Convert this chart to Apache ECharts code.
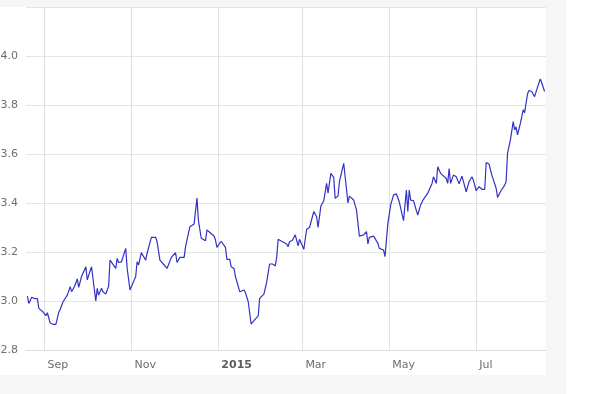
<!DOCTYPE html>
<html>
<head>
<meta charset="utf-8">
<script src="https://cdn.jsdelivr.net/npm/echarts@6/dist/echarts.min.js"></script>
<style>
html,body{margin:0;padding:0;background:#fff;}
#frame{position:absolute;left:0;top:0;width:566px;height:394px;background:#f6f6f6;}
#inner{position:absolute;left:0;top:7px;width:546px;height:368px;background:#fff;}
#chart{position:absolute;left:0;top:0;width:592px;height:394px;}
</style>
</head>
<body>
<div id="frame"><div id="inner"></div></div>
<div id="chart"></div>
<script>
const dates = [
'2014-08-20','2014-08-21','2014-08-23','2014-08-25','2014-08-27','2014-08-28','2014-08-29','2014-08-31',
'2014-09-02','2014-09-03','2014-09-05','2014-09-07','2014-09-09','2014-09-11','2014-09-12','2014-09-14',
'2014-09-17','2014-09-18','2014-09-19','2014-09-20','2014-09-22','2014-09-24','2014-09-25','2014-09-27','2014-09-30',
'2014-10-01','2014-10-04','2014-10-05','2014-10-07','2014-10-08','2014-10-09','2014-10-11','2014-10-12','2014-10-14',
'2014-10-16','2014-10-17','2014-10-21','2014-10-22','2014-10-23','2014-10-25','2014-10-28','2014-10-29','2014-10-31',
'2014-11-02','2014-11-04','2014-11-05','2014-11-06','2014-11-08','2014-11-11','2014-11-12','2014-11-13','2014-11-15',
'2014-11-18','2014-11-19','2014-11-21','2014-11-24','2014-11-26','2014-11-27','2014-11-29',
'2014-12-02','2014-12-03','2014-12-05','2014-12-08','2014-12-09','2014-12-10','2014-12-12','2014-12-15','2014-12-17',
'2014-12-18','2014-12-20','2014-12-23','2014-12-24','2014-12-29','2014-12-30','2014-12-31',
'2015-01-03','2015-01-06','2015-01-07','2015-01-09','2015-01-10','2015-01-12','2015-01-13','2015-01-16','2015-01-19',
'2015-01-20','2015-01-22','2015-01-24','2015-01-26','2015-01-29','2015-01-30',
'2015-02-02','2015-02-04','2015-02-06','2015-02-08','2015-02-10','2015-02-11','2015-02-12','2015-02-15','2015-02-18',
'2015-02-19','2015-02-20','2015-02-22','2015-02-24','2015-02-26','2015-02-27',
'2015-03-02','2015-03-04','2015-03-06','2015-03-09','2015-03-11','2015-03-12','2015-03-14','2015-03-16','2015-03-18',
'2015-03-19','2015-03-21','2015-03-23','2015-03-24','2015-03-26','2015-03-27','2015-03-30',
'2015-04-02','2015-04-03','2015-04-06','2015-04-08','2015-04-10','2015-04-13','2015-04-15','2015-04-16','2015-04-17',
'2015-04-20','2015-04-23','2015-04-24','2015-04-27','2015-04-28','2015-04-30',
'2015-05-02','2015-05-04','2015-05-06','2015-05-08','2015-05-11','2015-05-13','2015-05-14','2015-05-15','2015-05-16',
'2015-05-18','2015-05-20','2015-05-21','2015-05-23','2015-05-25','2015-05-26','2015-05-28','2015-05-31',
'2015-06-01','2015-06-03','2015-06-04','2015-06-06','2015-06-10','2015-06-11','2015-06-12','2015-06-13','2015-06-15',
'2015-06-17','2015-06-19','2015-06-21','2015-06-24','2015-06-26','2015-06-28','2015-06-29',
'2015-07-01','2015-07-03','2015-07-05','2015-07-07','2015-07-08','2015-07-10','2015-07-12','2015-07-15','2015-07-16',
'2015-07-18','2015-07-21','2015-07-22','2015-07-23','2015-07-25','2015-07-27','2015-07-28','2015-07-29','2015-07-30',
'2015-08-01','2015-08-03','2015-08-04','2015-08-05','2015-08-06','2015-08-07','2015-08-09','2015-08-11','2015-08-13',
'2015-08-15','2015-08-16','2015-08-18'
];
const values = [
3.02,2.99,3.015,3.01,3.01,2.97,2.965,2.955,
2.94,2.952,2.91,2.905,2.905,2.955,2.965,2.997,
3.024,3.03,3.058,3.038,3.058,3.09,3.056,3.10,3.14,
3.086,3.14,3.093,3.0,3.052,3.024,3.052,3.038,3.028,
3.06,3.167,3.133,3.174,3.157,3.16,3.215,3.133,3.045,
3.072,3.10,3.16,3.147,3.197,3.167,3.195,3.197,3.26,
3.26,3.242,3.167,3.147,3.133,3.133,3.178,
3.197,3.157,3.178,3.178,3.222,3.215,3.303,3.314,3.42,
3.33,3.256,3.246,3.29,3.265,3.249,3.219,
3.244,3.219,3.17,3.17,3.14,3.133,3.10,3.038,3.045,
3.034,2.997,2.906,2.92,2.939,3.011,
3.028,3.079,3.151,3.151,3.143,3.181,3.252,3.242,3.233,
3.222,3.242,3.248,3.27,3.225,3.252,
3.211,3.293,3.30,3.365,3.344,3.30,3.388,3.409,3.48,
3.44,3.521,3.505,3.419,3.428,3.487,3.562,
3.40,3.428,3.412,3.371,3.265,3.27,3.283,3.233,3.26,
3.265,3.235,3.215,3.208,3.181,3.317,
3.392,3.433,3.437,3.405,3.328,3.453,3.365,3.453,3.412,
3.41,3.369,3.351,3.392,3.415,3.42,3.44,3.48,
3.507,3.48,3.548,3.521,3.50,3.48,3.541,3.48,3.514,
3.507,3.478,3.51,3.446,3.487,3.507,3.494,
3.45,3.467,3.456,3.456,3.565,3.559,3.514,3.46,3.423,
3.446,3.473,3.487,3.603,3.657,3.732,3.698,3.711,3.678,
3.725,3.78,3.769,3.773,3.845,3.859,3.855,3.834,3.872,
3.906,3.891,3.855
];
const xMin = '2014-08-19';
const xMax = '2015-08-19';
const yMin = 2.8, yMax = 4.2, yStep = 0.2;

const chart = echarts.init(document.getElementById('chart'));
chart.setOption({
  backgroundColor: 'transparent',
  animation: false,
  grid: { left: 26, right: 46, top: 7, bottom: 44, containLabel: false, outerBoundsMode: 'none' },
  xAxis: {
    type: 'time',
    min: xMin, max: xMax,
    splitNumber: 6,
    axisLine: { show: true, lineStyle: { color: '#dcdcdc', width: 1 } },
    axisTick: { show: false },
    splitLine: { show: true, showMinLine: false, showMaxLine: false, lineStyle: { color: '#e0e0e0', width: 1 } },
    axisLabel: {
      color: '#6e6e6e', fontFamily: 'DejaVu Sans', fontSize: 11, margin: 10,
      align: 'left', padding: [0,0,0,3],
      showMinLabel: false, showMaxLabel: false,
      rich: { primary: { fontWeight: 'bold', color: '#5e5e5e', fontFamily: 'DejaVu Sans', fontSize: 11 } }
    }
  },
  yAxis: {
    type: 'value',
    min: yMin, max: yMax, interval: yStep,
    axisLine: { show: false }, axisTick: { show: false },
    splitLine: { lineStyle: { color: '#e4e4e4', width: 1 } },
    axisLabel: {
      color: '#6e6e6e', fontFamily: 'DejaVu Sans', fontSize: 11, margin: 8,
      showMaxLabel: false,
      formatter: v => v.toFixed(1)
    }
  },
  series: [{
    type: 'line',
    data: dates.map((d, i) => [d, values[i]]),
    showSymbol: false, symbol: 'none',
    lineStyle: { color: '#3232c4', width: 1.2 },
    smooth: false
  }]
});
</script>
</body>
</html>
